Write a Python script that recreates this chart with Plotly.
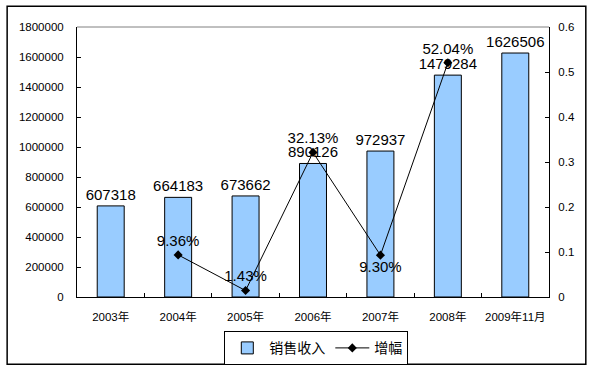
import plotly.graph_objects as go

categories = ["2003年", "2004年", "2005年", "2006年", "2007年", "2008年", "2009年11月"]
sales = [607318, 664183, 673662, 890126, 972937, 1479284, 1626506]
growth = [None, 0.0936, 0.0143, 0.3213, 0.0930, 0.5204, None]
growth_labels = ["", "9.36%", "1.43%", "32.13%", "9.30%", "52.04%", ""]
growth_pos = ["top center", "top center", "top center", "top center", "bottom center", "top center", "top center"]

FONT = "Liberation Sans, Arial, Noto Sans CJK SC, sans-serif"

fig = go.Figure()
fig.add_trace(go.Bar(
    x=categories, y=sales, name="销售收入",
    marker=dict(color="#99CCFF", line=dict(color="black", width=1)),
    text=[str(v) for v in sales], textposition="outside", textangle=0,
    constraintext="none",
    textfont=dict(size=15, color="black", family=FONT),
    cliponaxis=False,
))
fig.add_trace(go.Scatter(
    x=categories, y=growth, name="增幅", yaxis="y2",
    mode="lines+markers+text",
    line=dict(color="black", width=1),
    marker=dict(symbol="diamond", size=7, color="black"),
    text=growth_labels, textposition=growth_pos,
    textfont=dict(size=15, color="black", family=FONT),
    cliponaxis=False,
))

fig.update_layout(
    width=593, height=370,
    margin=dict(l=77, r=44, t=27, b=73, autoexpand=False),
    paper_bgcolor="white", plot_bgcolor="white",
    font=dict(family=FONT, color="black"),
    bargap=0.6,
    showlegend=True,
    uniformtext=dict(mode=False),
    legend=dict(orientation="h", x=0.507, xanchor="center", y=-0.19, yanchor="middle",
                bordercolor="black", borderwidth=1, font=dict(size=14, color="black"),
                bgcolor="white", traceorder="normal", itemwidth=34),
    xaxis=dict(showline=True, linecolor="black", linewidth=1, ticks="inside", ticklen=4,
               tickcolor="black", tickson="boundaries", tickfont=dict(size=11.5),
               tickangle=0, automargin=False,
               ticklabelstandoff=9, showgrid=False),
    yaxis=dict(range=[0, 1800000], dtick=200000, tickformat="d", showline=True,
               linecolor="black", ticks="inside", ticklen=4, tickcolor="black",
               showgrid=False, zeroline=False, tickfont=dict(size=11.5),
               automargin=False, ticklabelstandoff=10),
    yaxis2=dict(range=[0, 0.6], dtick=0.1, overlaying="y", side="right", showline=True,
                linecolor="black", ticks="inside", ticklen=4, tickcolor="black",
                showgrid=False, zeroline=False, tickfont=dict(size=11.5),
                automargin=False, ticklabelstandoff=6),
    shapes=[
        dict(type="line", xref="paper", yref="paper", x0=0, x1=1, y0=1, y1=1,
             line=dict(color="#808080", width=1)),
        dict(type="rect", xref="paper", yref="paper", x0=-0.148, x1=1.078, y0=-0.249, y1=1.077,
             line=dict(color="black", width=1.5), layer="below"),
    ],
)

fig.write_html("out.html", config={"displayModeBar": False},
               post_script="document.body.style.margin='0px';document.body.style.overflow='hidden';")
